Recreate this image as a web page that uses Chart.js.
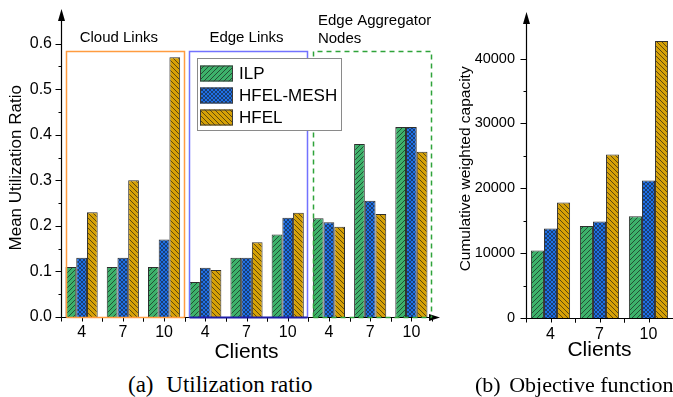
<!DOCTYPE html>
<html>
<head>
<meta charset="utf-8">
<script src="https://cdn.jsdelivr.net/npm/chart.js@4/dist/chart.umd.min.js"></script>
<style>
  html, body { margin: 0; padding: 0; background: #fff; }
  body { position: relative; width: 673px; height: 397px; overflow: hidden; }
  canvas { position: absolute; top: 0; }
  .cap { position: absolute; top: 373px; height: 24px; line-height: 24px;
         font-family: 'Liberation Serif', 'Times New Roman', serif; font-size: 22px; color: #000; white-space: nowrap; }
  .cap .tag { margin-right: 3px; }
</style>
</head>
<body>
<canvas id="cL" width="445" height="370" style="left:0"></canvas>
<canvas id="cR" width="233" height="370" style="left:440px"></canvas>
<div class="cap" style="left:128px;font-size:23px"><span class="tag" style="margin-right:7px">(a)</span> Utilization ratio</div>
<div class="cap" style="left:475px"><span class="tag">(b)</span> Objective function</div>
<script>
// ---- data ----
const clients = ['4', '7', '10'];
const utilCategories = ['4', '7', '10', '4', '7', '10', '4', '7', '10'];
const resourceGroups = ['Cloud Links', 'Edge Links', 'Edge Aggregator Nodes'];
const seriesNames = ['ILP', 'HFEL-MESH', 'HFEL'];

const utilILP  = [0.11, 0.11, 0.11, 0.077, 0.13, 0.181, 0.217, 0.38, 0.417];
const utilMesh = [0.13, 0.13, 0.17, 0.108, 0.13, 0.218, 0.208, 0.255, 0.417];
const utilHFEL = [0.23, 0.30, 0.57, 0.103, 0.164, 0.229, 0.198, 0.226, 0.363];

const capILP  = [10400, 14200, 15700];
const capMesh = [13800, 14900, 21200];
const capHFEL = [17800, 25200, 42700];

const utilTicks = [0, 0.1, 0.2, 0.3, 0.4, 0.5, 0.6];
const capTicks = [0, 10000, 20000, 30000, 40000];

// ---- styling ----
const SANS = "'Liberation Sans', Arial, Helvetica, sans-serif";
Chart.defaults.font.family = SANS;
Chart.defaults.color = '#000';

function hatch(fill, dirs, size, width) {
  const c = document.createElement('canvas');
  c.width = c.height = size;
  const g = c.getContext('2d');
  g.fillStyle = fill;
  g.fillRect(0, 0, size, size);
  g.strokeStyle = 'rgba(20,20,20,0.78)';
  g.lineWidth = width;
  g.beginPath();
  for (const k of [-1, 0, 1]) {
    if (dirs.includes('/')) { g.moveTo(k * size, size); g.lineTo(k * size + size, 0); }
    if (dirs.includes('\\')) { g.moveTo(k * size, 0); g.lineTo(k * size + size, size); }
  }
  g.stroke();
  return g.createPattern(c, 'repeat');
}

const fills = [
  hatch('#3db26b', '/', 5, 0.8),
  hatch('#1f70e6', '/\\', 4, 0.7),
  hatch('#d6a106', '\\', 5, 0.8)
];

function makeDatasets(valueLists) {
  return valueLists.map((vals, i) => ({
    label: seriesNames[i],
    data: vals,
    backgroundColor: fills[i],
    borderColor: '#2e2e2e',
    borderWidth: 1
  }));
}

// axis lines with arrow heads, major/minor ticks on both axes
function drawAxes(chart, o) {
  const { ctx, chartArea: a, scales: { x, y } } = chart;
  const ax = Math.round(a.left) + 0.5;
  const ay = Math.round(a.bottom) + 0.5;
  ctx.save();
  ctx.strokeStyle = '#000';
  ctx.fillStyle = '#000';
  ctx.lineWidth = 1.2;
  ctx.beginPath();
  ctx.moveTo(ax, ay);
  ctx.lineTo(ax, o.arrowTop + 6);
  ctx.moveTo(ax, ay);
  ctx.lineTo(o.xEnd - (o.xArrow ? 6 : 0), ay);
  ctx.stroke();
  // arrow heads
  ctx.beginPath();
  ctx.moveTo(ax, o.arrowTop);
  ctx.lineTo(ax - 3.5, o.arrowTop + 12);
  ctx.lineTo(ax + 3.5, o.arrowTop + 12);
  ctx.closePath();
  ctx.fill();
  if (o.xArrow) {
    ctx.beginPath();
    ctx.moveTo(o.xEnd, ay);
    ctx.lineTo(o.xEnd - 11, ay - 3.5);
    ctx.lineTo(o.xEnd - 11, ay + 3.5);
    ctx.closePath();
    ctx.fill();
  }
  // y ticks: majors at the listed ticks, minors halfway between
  ctx.lineWidth = 1;
  ctx.beginPath();
  o.ticks.forEach((v, i) => {
    const py = Math.round(y.getPixelForValue(v)) + 0.5;
    ctx.moveTo(ax - 6, py);
    ctx.lineTo(ax, py);
    if (i > 0) {
      const pm = Math.round(y.getPixelForValue((v + o.ticks[i - 1]) / 2)) + 0.5;
      ctx.moveTo(ax - 3, pm);
      ctx.lineTo(ax, pm);
    }
  });
  // x ticks at category centres and boundaries
  const count = x.getLabels().length;
  const cw = x.getPixelForValue(1) - x.getPixelForValue(0);
  for (let i = 0; i < count; i++) {
    const c = x.getPixelForValue(i);
    for (const px of [c - cw / 2, c, c + cw / 2]) {
      const p = Math.round(px) + 0.5;
      ctx.moveTo(p, ay);
      ctx.lineTo(p, ay + 4);
    }
  }
  ctx.stroke();
  ctx.restore();
}

const boxStyles = [
  { color: '#ff9c40', dash: [], bottom: '#ff9c40' },
  { color: '#7272ff', dash: [], bottom: '#1c1ca8' },
  { color: '#2fa33a', dash: [5, 4], bottom: '#2fa33a' }
];

const leftDecor = {
  id: 'leftDecor',
  afterDatasetsDraw(chart) {
    const { ctx, chartArea: a, scales: { x, y } } = chart;
    drawAxes(chart, { arrowTop: 9, xEnd: 440, xArrow: true, ticks: utilTicks });
    const cw = x.getPixelForValue(1) - x.getPixelForValue(0);
    const top = Math.round(y.getPixelForValue(0.583)) + 0.5;
    const bottom = Math.round(a.bottom) + 0.5;
    ctx.save();
    ctx.lineWidth = 1.5;
    resourceGroups.forEach((name, g) => {
      const s = boxStyles[g];
      const l = Math.round(x.getPixelForValue(g * 3) - 0.39 * cw) + 0.5;
      const r = Math.round(x.getPixelForValue(g * 3 + 2) + 0.5 * cw - 1) + 0.5;
      ctx.setLineDash(s.dash);
      ctx.strokeStyle = s.color;
      ctx.beginPath();
      ctx.moveTo(l, bottom); ctx.lineTo(l, top); ctx.lineTo(r, top); ctx.lineTo(r, bottom);
      ctx.stroke();
      ctx.strokeStyle = s.bottom;
      ctx.lineWidth = g === 1 ? 2 : 1.5;
      ctx.beginPath();
      ctx.moveTo(l, bottom); ctx.lineTo(r, bottom);
      ctx.stroke();
      ctx.lineWidth = 1.5;
    });
    ctx.setLineDash([]);
    // group captions
    ctx.fillStyle = '#000';
    ctx.font = '15px ' + SANS;
    ctx.textBaseline = 'middle';
    ctx.textAlign = 'center';
    ctx.fillText('Cloud Links', x.getPixelForValue(1) - 4, 38);
    ctx.fillText('Edge Links', x.getPixelForValue(4), 38);
    ctx.textAlign = 'left';
    ctx.fillText('Edge Aggregator', x.getPixelForValue(6) - 11, 21);
    ctx.fillText('Nodes', x.getPixelForValue(6) - 11, 39);
    // legend
    ctx.fillStyle = '#fff';
    ctx.fillRect(197, 58, 145, 73);
    ctx.strokeStyle = '#8a8a8a';
    ctx.lineWidth = 1;
    ctx.strokeRect(197.5, 58.5, 144, 72);
    ctx.font = '17px ' + SANS;
    seriesNames.forEach((name, i) => {
      const cy = 73.5 + i * 22;
      ctx.fillStyle = fills[i];
      ctx.fillRect(200, cy - 8, 33, 16);
      ctx.strokeStyle = '#3a3a3a';
      ctx.strokeRect(200.5, cy - 7.5, 32, 15);
      ctx.fillStyle = '#000';
      ctx.fillText(name, 239, cy + 1);
    });
    ctx.restore();
  }
};

const rightDecor = {
  id: 'rightDecor',
  afterDatasetsDraw(chart) {
    drawAxes(chart, { arrowTop: 12, xEnd: 233, xArrow: false, ticks: capTicks });
  }
};

function fixedTicks(list) {
  return scale => { scale.ticks = list.map(v => ({ value: v })); };
}

new Chart(document.getElementById('cL'), {
  type: 'bar',
  data: { labels: utilCategories, datasets: makeDatasets([utilILP, utilMesh, utilHFEL]) },
  options: {
    responsive: false,
    animation: false,
    layout: { padding: { top: 14, right: 13, left: 0, bottom: 0 } },
    datasets: { bar: { categoryPercentage: 0.78, barPercentage: 1 } },
    plugins: { legend: { display: false }, tooltip: { enabled: false } },
    scales: {
      x: {
        grid: { display: false, drawTicks: false },
        border: { display: false },
        ticks: { font: { size: 16 }, color: '#000', padding: 6, maxRotation: 0, autoSkip: false },
        title: { display: true, text: 'Clients', font: { size: 21 }, color: '#000', padding: { top: 0, bottom: 5 } },
        afterFit(s) { s.height = 53; }
      },
      y: {
        min: 0, max: 0.655,
        grid: { display: false, drawTicks: false },
        border: { display: false },
        ticks: { font: { size: 16 }, color: '#000', padding: 9, autoSkip: false,
                 callback: v => Number(v).toFixed(1) },
        afterBuildTicks: fixedTicks(utilTicks),
        title: { display: true, text: 'Mean Utilization Ratio', font: { size: 17 }, color: '#000', padding: { top: 6, bottom: 0 } },
        afterFit(s) { s.width = 61; }
      }
    }
  },
  plugins: [leftDecor]
});

new Chart(document.getElementById('cR'), {
  type: 'bar',
  data: { labels: clients, datasets: makeDatasets([capILP, capMesh, capHFEL]) },
  options: {
    responsive: false,
    animation: false,
    layout: { padding: { top: 13, right: 0, left: 0, bottom: 0 } },
    datasets: { bar: { categoryPercentage: 0.8, barPercentage: 1 } },
    plugins: { legend: { display: false }, tooltip: { enabled: false } },
    scales: {
      x: {
        grid: { display: false, drawTicks: false },
        border: { display: false },
        ticks: { font: { size: 16 }, color: '#000', padding: 7, maxRotation: 0, autoSkip: false },
        title: { display: true, text: 'Clients', font: { size: 21 }, color: '#000', padding: { top: 0, bottom: 7 } },
        afterFit(s) { s.height = 52; }
      },
      y: {
        min: 0, max: 46000,
        grid: { display: false, drawTicks: false },
        border: { display: false },
        ticks: { font: { size: 14.5 }, color: '#000', padding: 11, autoSkip: false,
                 callback: v => String(v) },
        afterBuildTicks: fixedTicks(capTicks),
        title: { display: true, text: 'Cumulative weighted capacity', font: { size: 15.5 }, color: '#000', padding: { top: 16, bottom: 0 } },
        afterFit(s) { s.width = 86; }
      }
    }
  },
  plugins: [rightDecor]
});
</script>
</body>
</html>
